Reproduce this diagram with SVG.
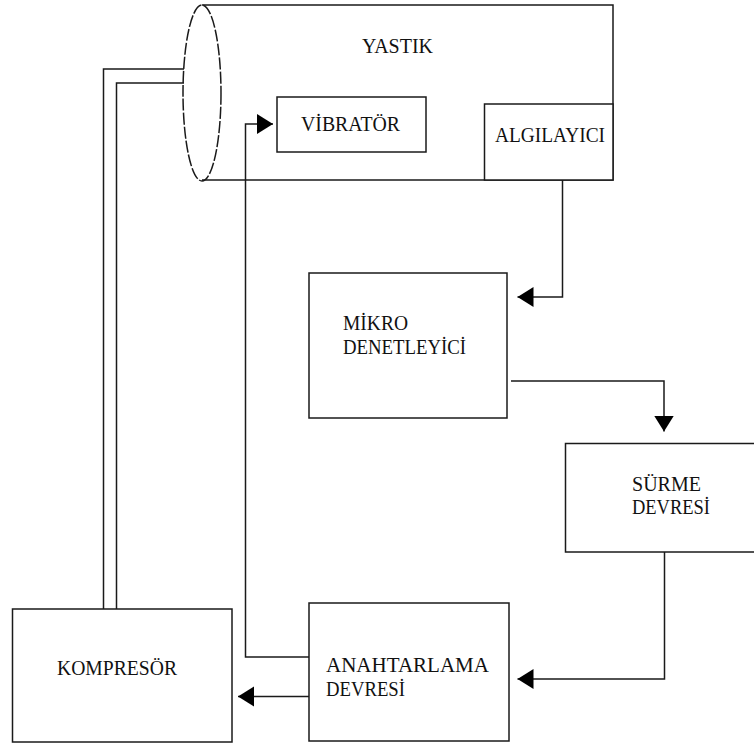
<svg xmlns="http://www.w3.org/2000/svg" width="754" height="745" viewBox="0 0 754 745">
<style>
.b{fill:#fff;stroke:#1a1a1a;stroke-width:1.5}
.l{fill:none;stroke:#1a1a1a;stroke-width:1.5}
.a{fill:none;stroke:#1a1a1a;stroke-width:1.5;marker-end:url(#ah)}
text{font-family:"Liberation Serif","Times New Roman",serif;font-size:20px;fill:#111}
</style>
<defs>
<marker id="ah" markerUnits="userSpaceOnUse" markerWidth="17" markerHeight="22" refX="16" refY="10" orient="auto">
<path d="M0,0 L16,10 L0,20 z" fill="#000"/>
</marker>
</defs>
<rect width="754" height="745" fill="#fff"/>
<g id="yastik">
<path class="l" d="M202,5 H613 V180 H202"/>
<ellipse cx="202" cy="93" rx="19" ry="88" fill="none" stroke="#1a1a1a" stroke-width="1.5" stroke-dasharray="12,2"/>
<text x="362" y="53" textLength="71" lengthAdjust="spacingAndGlyphs">YASTIK</text>
</g>
<g id="vibrator">
<rect class="b" x="277" y="97" width="149" height="55"/>
<text x="301" y="131" textLength="99" lengthAdjust="spacingAndGlyphs">VİBRATÖR</text>
</g>
<g id="algilayici">
<rect class="b" x="484.5" y="104" width="128.5" height="76"/>
<text x="495" y="142" textLength="110" lengthAdjust="spacingAndGlyphs">ALGILAYICI</text>
</g>
<g id="mikro">
<rect class="b" x="309" y="273" width="198" height="145"/>
<text x="343" y="330" textLength="65" lengthAdjust="spacingAndGlyphs">MİKRO</text>
<text x="343" y="354" textLength="123" lengthAdjust="spacingAndGlyphs">DENETLEYİCİ</text>
</g>
<g id="surme">
<rect class="b" x="565.5" y="443.5" width="195" height="108.5"/>
<text x="632" y="491" textLength="69" lengthAdjust="spacingAndGlyphs">SÜRME</text>
<text x="632" y="514" textLength="78" lengthAdjust="spacingAndGlyphs">DEVRESİ</text>
</g>
<g id="anahtarlama">
<rect class="b" x="309" y="603" width="200" height="138"/>
<text x="326" y="672" textLength="163" lengthAdjust="spacingAndGlyphs">ANAHTARLAMA</text>
<text x="326" y="696" textLength="79" lengthAdjust="spacingAndGlyphs">DEVRESİ</text>
</g>
<g id="kompresor">
<rect class="b" x="12.5" y="609" width="219.5" height="133"/>
<text x="57" y="675" textLength="120" lengthAdjust="spacingAndGlyphs">KOMPRESÖR</text>
</g>
<g id="connectors">
<path class="l" d="M184,69 H103.5 V609"/>
<path class="l" d="M184,83 H116.5 V609"/>
<path class="a" d="M562.5,180 V297 H517.5"/>
<path class="a" d="M511,381 H664 V431.5"/>
<path class="a" d="M664.5,552 V679 H517.5"/>
<path class="a" d="M309,657 H245.5 V124 H273"/>
<path class="a" d="M309,696.5 H238"/>
</g>
</svg>
